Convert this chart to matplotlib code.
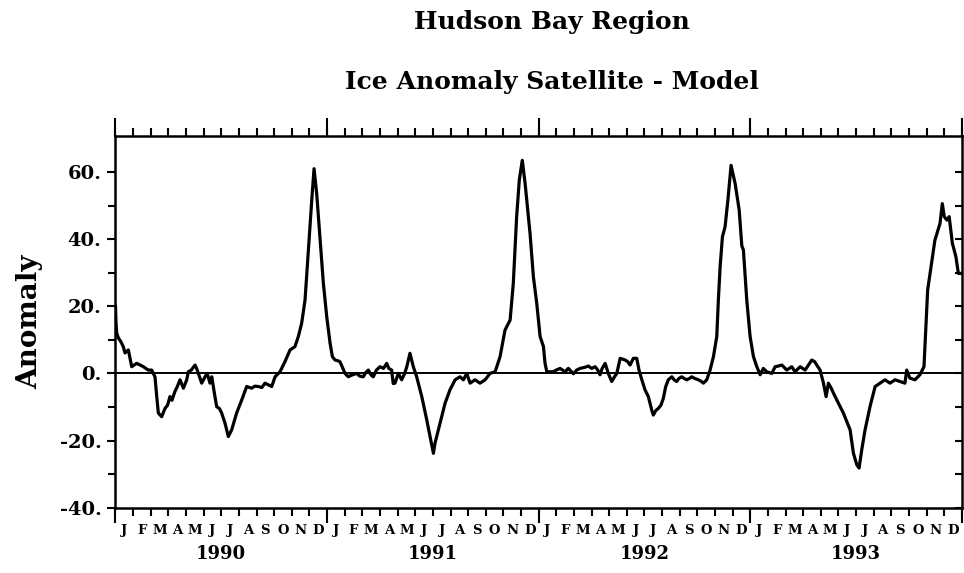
import matplotlib
matplotlib.use("Agg")
import matplotlib.pyplot as plt
import numpy as np

# ---------------- data (time in months since Jan 1990) ----------------
month_letters = ['J', 'F', 'M', 'A', 'M', 'J', 'J', 'A', 'S', 'O', 'N', 'D']
years = ['1990', '1991', '1992', '1993']
y_major = [-40, -20, 0, 20, 40, 60]
y_major_labels = ['-40.', '-20.', '0.', '20.', '40.', '60.']
y_minor = [-30, -10, 10, 30, 50]

t_months = [
    0.0, 0.03, 0.07, 0.16, 0.3, 0.44, 0.54, 0.73, 0.92, 1.2, 1.4, 1.58, 1.86, 2.05, 2.24, 2.34, 2.43,
    2.62, 2.81, 2.95, 3.09, 3.2, 3.37, 3.5, 3.66, 3.85, 4.04, 4.13, 4.3, 4.51, 4.6, 4.7, 4.89, 5.08,
    5.2, 5.36, 5.46, 5.64, 5.74, 5.9, 6.02, 6.21, 6.4, 6.59, 6.87, 7.16, 7.44, 7.72, 7.9, 8.1, 8.3,
    8.48, 8.7, 8.86, 9.05, 9.33, 9.61, 9.9, 10.18, 10.37, 10.56, 10.75, 10.94, 11.13, 11.26, 11.41,
    11.6, 11.79, 11.98, 12.17, 12.3, 12.45, 12.6, 12.73, 13.02, 13.2, 13.4, 13.68, 13.85, 14.05, 14.2,
    14.34, 14.5, 14.62, 14.8, 15.0, 15.2, 15.38, 15.5, 15.66, 15.75, 15.85, 16.04, 16.23, 16.4, 16.52,
    16.7, 16.89, 17.08, 17.37, 17.65, 17.84, 18.03, 18.12, 18.41, 18.69, 18.97, 19.26, 19.54, 19.73,
    19.92, 20.11, 20.39, 20.67, 20.96, 21.24, 21.53, 21.81, 22.09, 22.38, 22.56, 22.75, 22.9, 23.07,
    23.23, 23.51, 23.7, 23.89, 24.08, 24.27, 24.36, 24.46, 24.83, 25.0, 25.21, 25.5, 25.68, 25.97,
    26.15, 26.35, 26.6, 26.82, 27.0, 27.2, 27.35, 27.48, 27.6, 27.77, 27.95, 28.14, 28.3, 28.43, 28.62,
    28.9, 29.05, 29.18, 29.37, 29.56, 29.69, 29.85, 30.03, 30.22, 30.41, 30.5, 30.65, 30.79, 30.93,
    31.07, 31.2, 31.35, 31.55, 31.7, 31.83, 31.95, 32.11, 32.25, 32.4, 32.55, 32.68, 32.85, 33.06,
    33.2, 33.34, 33.53, 33.72, 33.91, 34.1, 34.19, 34.29, 34.42, 34.57, 34.73, 34.91, 35.14, 35.37,
    35.52, 35.61, 35.8, 35.99, 36.18, 36.37, 36.56, 36.74, 36.93, 37.22, 37.41, 37.6, 37.79, 38.07,
    38.35, 38.54, 38.83, 39.11, 39.3, 39.49, 39.65, 39.77, 39.96, 40.15, 40.3, 40.43, 40.6, 40.72,
    41.0, 41.28, 41.45, 41.66, 41.85, 42.04, 42.17, 42.32, 42.51, 42.79, 43.08, 43.36, 43.64, 43.92,
    44.21, 44.49, 44.77, 44.87, 45.05, 45.34, 45.62, 45.85, 45.94, 46.06, 46.25, 46.47, 46.76, 46.89,
    47.0, 47.15, 47.28, 47.46, 47.66, 47.8, 48.0,
]
anomaly = [
    20, 15, 12, 10.6, 9.5, 8, 6.1, 7, 2, 3, 2.5, 2, 1, 1, -1, -6.9, -11.8,
    -12.9, -10.4, -9.5, -6.9, -8, -5.4, -4, -1.9, -4.4, -1.9, 0.5, 1, 2.5, 1.5, 0, -2.9, -1,
    0, -2.9, -1, -6.9, -9.9, -10.5, -11.8, -14.8, -18.8, -16.8, -11.8, -7.9, -3.9, -4.4, -3.8, -3.9, -4.2,
    -2.9, -3.5, -3.9, -1, 0.5, 3.5, 7, 8, 11, 15, 21.9, 36.8, 51.6, 61, 53.6,
    40, 26.8, 16.9, 9, 5, 4, 3.8, 3.5, 0, -1, -0.5, 0, -0.8, -1, 0.3,
    1, -0.5, -1, 1, 2, 1.5, 3, 1.5, 1, -3, -2.9, 0, -1.9, 0, 2,
    6, 2, -1, -6.9, -13.8, -18.8, -23.8, -20.8, -14.8, -8.9, -4.9, -1.9, -1, -1.9,
    0, -2.9, -1.9, -2.9, -1.9, 0, 0.5, 5, 12.9, 15.9, 26.8, 46.7, 57.6, 63.5,
    56.6, 41.7, 28.8, 20.9, 11, 8, 3, 0.5, 0.5, 1, 1.5, 0.5, 1.5, -0.1,
    1, 1.5, 1.8, 2.2, 1.5, 2, 1, -0.4, 1.5, 3, 0, -2.4, -1, 0, 4.5,
    4, 3.5, 2.5, 4.5, 4.5, 1, -1.9, -4.9, -6.9, -10.9, -12.4, -11, -10.4, -9.5,
    -7.4, -4, -1.9, -1, -2, -2.4, -1.5, -1, -1.5, -1.9, -1.5, -1, -1.5, -1.9,
    -2.3, -2.9, -1.9, 1, 5, 11, 21.9, 31.8, 40.7, 43.7, 51.6, 62, 56.6, 48.7,
    38, 36.8, 21.9, 11, 5, 2, -0.4, 1.5, 0.5, 0, 2, 2.2, 2.5, 1,
    2, 0.5, 2, 1, 2.5, 4, 3.5, 2.5, 1, -2.9, -6.9, -2.9, -4.5, -5.9,
    -8.9, -11.8, -14, -16.8, -23.8, -27.2, -28.2, -22.8, -16.8, -9.9, -3.9, -2.9, -1.9, -2.9,
    -1.9, -2.4, -2.9, 1, -1.4, -1.9, -0.4, 2, 12, 24.9, 31.8, 39.7, 44.7, 50.6,
    46.7, 45.7, 46.7, 38.8, 34.8, 29.8, 29.8,
]

# ---------------- figure ----------------
FONT = 'DejaVu Serif'
plt.rcParams['font.family'] = [FONT]
plt.rcParams['font.weight'] = 'bold'

fig = plt.figure(figsize=(9.64, 5.73), dpi=100)
ax = fig.add_axes([0.1198, 0.114, 0.878, 0.649])

ax.plot(t_months, anomaly, color='black', lw=2.3, solid_joinstyle='round')
ax.axhline(0, color='black', lw=1.4)

n_months = 12 * len(years)
ax.set_xlim(0, n_months)
ax.set_ylim(-40, 70.8)

for s in ax.spines.values():
    s.set_linewidth(1.8)

# y axis
ax.set_yticks(y_major, y_major_labels)
ax.set_yticks(y_minor, minor=True)
ax.tick_params(axis='y', which='both', direction='out', width=1.5, labelsize=14, pad=4)
ax.tick_params(axis='y', which='major', length=6)
ax.tick_params(axis='y', which='minor', length=5)
for lab in ax.get_yticklabels():
    lab.set_fontweight('bold')

ry = ax.secondary_yaxis('right')
ry.set_yticks(sorted(y_major + y_minor), [''] * len(y_major + y_minor))
ry.tick_params(direction='in', length=5, width=1.5)
ry.spines['right'].set_visible(False)

# x axis: month ticks and letters
ax.set_xticks(np.arange(0, n_months + 1), [''] * (n_months + 1))
ax.set_xticks(np.arange(n_months) + 0.5, month_letters * len(years), minor=True)
ax.tick_params(axis='x', which='major', direction='out', length=6, width=1.5,
               top=True, bottom=True)
ax.tick_params(axis='x', which='minor', length=0, labelsize=9.5, pad=12)
for lab in ax.get_xticklabels(minor=True):
    lab.set_fontweight('bold')

# year ticks and labels
bx = ax.secondary_xaxis('bottom')
bx.set_xticks(np.arange(0, n_months + 1, 12), [''] * (len(years) + 1))
bx.set_xticks(np.arange(len(years)) * 12 + 6, years, minor=True)
bx.tick_params(which='major', direction='out', length=11, width=1.5)
bx.tick_params(which='minor', length=0, labelsize=13, pad=27)
bx.spines['bottom'].set_visible(False)

tx = ax.secondary_xaxis('top')
tx.set_xticks(np.arange(0, n_months + 1, 12), [''] * (len(years) + 1))
tx.tick_params(which='major', direction='out', length=13, width=1.5)
tx.spines['top'].set_visible(False)

ax.set_ylabel('Anomaly', fontsize=20, fontweight='bold', labelpad=12)

fig.text(0.573, 1 - 22 / 573, 'Hudson Bay Region', ha='center', va='center',
         fontsize=18, fontweight='bold')
fig.text(0.573, 1 - 82 / 573, 'Ice Anomaly Satellite - Model', ha='center', va='center',
         fontsize=18, fontweight='bold')

fig.savefig('out.png', dpi=100, facecolor='white')
